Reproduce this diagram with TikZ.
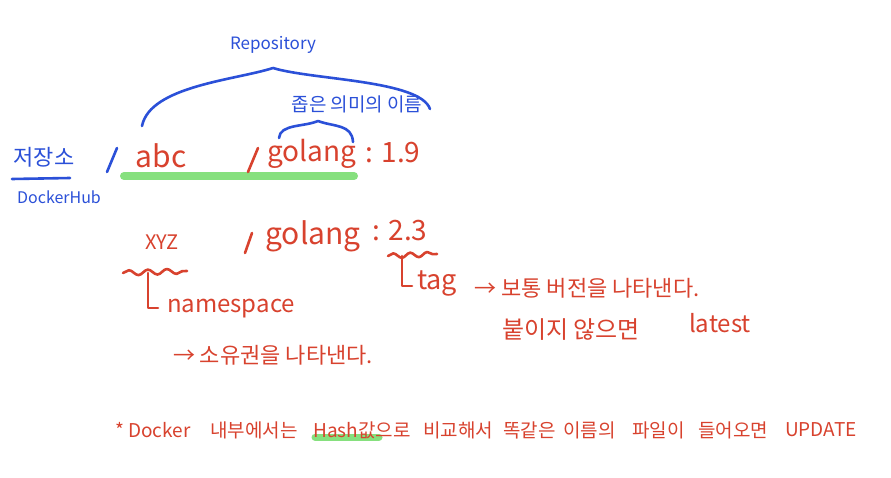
\documentclass[tikz,border=0pt]{standalone}
\usepackage{fontspec}
\setmainfont{Noto Sans CJK KR}
\usetikzlibrary{decorations.pathmorphing}
\definecolor{pen}{HTML}{D8422E}
\definecolor{bpen}{HTML}{2B50D8}
\definecolor{hl}{HTML}{86E07E}
\tikzset{
  rtxt/.style={text=pen, inner sep=0pt, font=\fontsize{#1}{#1}\selectfont},
  btxt/.style={text=bpen, inner sep=0pt, font=\fontsize{#1}{#1}\selectfont},
  rline/.style={draw=pen, line width=2.6pt, line cap=round, line join=round},
  bline/.style={draw=bpen, line width=2.6pt, line cap=round, line join=round},
  wave/.style={rline, decorate, decoration={snake, amplitude=2.6pt, segment length=19pt}},
  glow/.style={draw=hl, line width=8pt, line cap=round}
}
\begin{document}
\begin{tikzpicture}[x=1pt,y=-1pt]
\useasboundingbox (0,0) rectangle (891,478);
\fill[white] (0,0) rectangle (891,478);
% highlights
\coordinate (g1) at (124,176); \coordinate (g2) at (354,176);
\draw[glow] (g1) -- (g2);
\coordinate (g3) at (315,437); \coordinate (g4) at (379,437);
\draw[glow, line width=7pt] (g3) -- (g4);
% blue part
\node[btxt=17] (repo) at (273,45) {Repository};
\coordinate (bl) at (142,126); \coordinate (bp) at (273,68); \coordinate (br) at (430,109);
\draw[bline] (bl) .. controls (150,86) and (236,80) .. (bp) .. controls (312,80) and (420,80) .. (br);
\node[btxt=19] (narrow) at (357,104) {좁은 의미의 이름};
\coordinate (sl) at (279,138); \coordinate (sp) at (318,121); \coordinate (sr) at (353,142);
\draw[bline] (sl) .. controls (280,124) and (304,127) .. (sp) .. controls (334,127) and (352,124) .. (sr);
\node[btxt=22] (store) at (44,157) {저장소};
\coordinate (u1) at (12,179); \coordinate (u2) at (70,178);
\draw[bline] (u1) -- (u2);
\node[btxt=16] (hub) at (59,197) {DockerHub};
\coordinate (s1) at (107,172); \coordinate (s2) at (117,148);
\draw[bline] (s1) -- (s2);
% red first line
\node[rtxt=30] (abc) at (161,156) {abc};
\coordinate (s3) at (248,172); \coordinate (s4) at (258,148);
\draw[rline] (s3) -- (s4);
\node[rtxt=28] (golang1) at (312,154) {golang};
\node[rtxt=28] (v19) at (393,153) {: 1.9};
% red second line
\node[rtxt=20] (xyz) at (162,242) {XYZ};
\coordinate (s5) at (245,253); \coordinate (s6) at (252,233);
\draw[rline] (s5) -- (s6);
\node[rtxt=30] (golang2) at (313,236) {golang};
\node[rtxt=28] (v23) at (400,231) {: 2.3};
% namespace bracket
\coordinate (w1) at (123,273); \coordinate (w2) at (187,271);
\draw[wave] (w1) -- (w2);
\coordinate (n1) at (148,273); \coordinate (n2) at (148,308); \coordinate (n3) at (158,308);
\draw[rline] (n1) -- (n2) -- (n3);
\node[rtxt=24] (ns) at (231,309) {namespace};
\node[rtxt=22] (own) at (273,355) {→ 소유권을 나타낸다.};
% tag bracket
\coordinate (w3) at (388,256); \coordinate (w4) at (437,254);
\draw[wave, decoration={snake, amplitude=2.4pt, segment length=17pt}] (w3) -- (w4);
\coordinate (t1) at (402,256); \coordinate (t2) at (402,286); \coordinate (t3) at (412,286);
\draw[rline] (t1) -- (t2) -- (t3);
\node[rtxt=27] (tag) at (437,283) {tag};
\node[rtxt=22] (ver) at (587,288) {→ 보통 버전을 나타낸다.};
\node[rtxt=24] (noattach) at (571,330) {붙이지 않으면};
\node[rtxt=24] (latest) at (720,323) {latest};
% bottom note
\node[rtxt=19, anchor=west] (b1) at (115,430) {* Docker};
\node[rtxt=19, anchor=west] (b2) at (210,430) {내부에서는};
\node[rtxt=19, anchor=west] (b3) at (313,430) {Hash값으로};
\node[rtxt=19, anchor=west] (b4) at (423,430) {비교해서};
\node[rtxt=19, anchor=west] (b5) at (503,430) {똑같은};
\node[rtxt=19, anchor=west] (b6) at (563,430) {이름의};
\node[rtxt=19, anchor=west] (b7) at (632,430) {파일이};
\node[rtxt=19, anchor=west] (b8) at (698,430) {들어오면};
\node[rtxt=19, anchor=west] (b9) at (785,430) {UPDATE};
\end{tikzpicture}
\end{document}
